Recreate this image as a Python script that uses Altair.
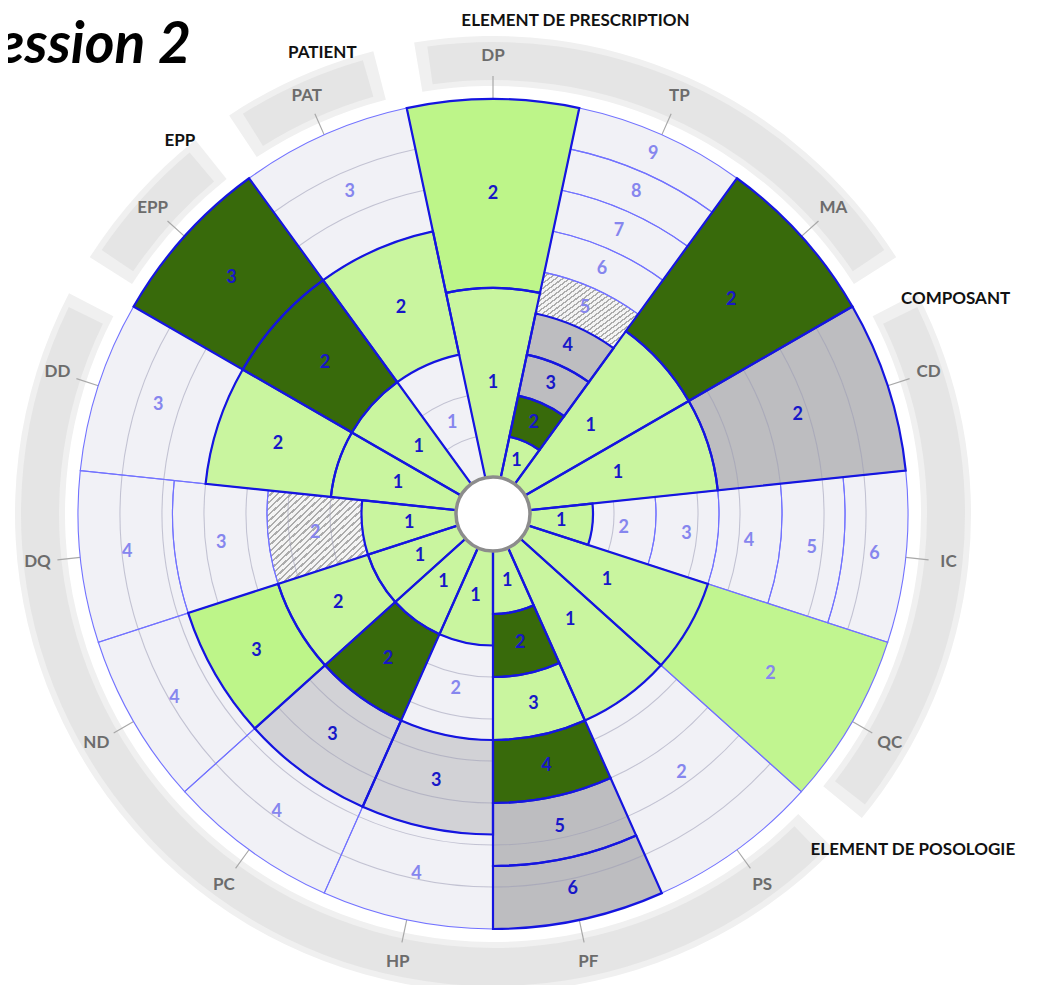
import math
import altair as alt
import pandas as pd

# ---------------- data ----------------
sectors = ["DP", "TP", "MA", "CD", "IC", "QC", "PS", "PF", "HP", "PC", "ND", "DQ", "DD", "EPP", "PAT"]
ring_counts = [2, 9, 2, 2, 6, 2, 2, 6, 4, 4, 4, 4, 3, 3, 3]
# L light green, B bright green, Q bright green (not validated), D dark green,
# G grey, g light grey, H hatched, U empty
cell_status = [
    ["L", "B"],
    ["L", "D", "G", "G", "H", "U", "U", "U", "U"],
    ["L", "D"],
    ["L", "G"],
    ["L", "U", "U", "U", "U", "U"],
    ["L", "Q"],
    ["L", "U"],
    ["L", "D", "L", "D", "G", "G"],
    ["L", "U", "g", "U"],
    ["L", "D", "g", "U"],
    ["L", "L", "B", "U"],
    ["L", "H", "U", "U"],
    ["L", "L", "U"],
    ["L", "D", "D"],
    ["U", "L", "U"],
]
groups = ["ELEMENT DE PRESCRIPTION", "COMPOSANT", "ELEMENT DE POSOLOGIE", "EPP", "PATIENT"]
group_members = [["DP", "TP", "MA"], ["CD", "IC", "QC"],
                 ["PS", "PF", "HP", "PC", "ND", "DQ", "DD"], ["EPP"], ["PAT"]]
title_text = "Session 2"

# ---------------- layout / style ----------------
R_IN, R_OUT = 37, 415
CX, CY = 485, 506
STEP = 360 / len(sectors)


def frac(px):
    return (px - R_IN) / (R_OUT - R_IN)


group_label_pos = {  # angle (deg), radius (px)
    "ELEMENT DE PRESCRIPTION": (9.5, 500),
    "COMPOSANT": (65.1, 510),
    "ELEMENT DE POSOLOGIE": (128.7, 538),
    "EPP": (320, 487),
    "PATIENT": (339.7, 492),
}
fill_of = {"L": "#c9f59f", "B": "#bdf589", "Q": "#c1f590", "D": "#386a0b",
           "G": "#bdbdc0", "g": "#d2d2d6", "H": "#e8e8e8", "U": "#f1f1f6"}
dark_txt, light_txt = "#1717c8", "#8686ee"
thick = {"L", "B", "D", "G", "g"}

rows, grid_rows = [], []
for i, s in enumerate(sectors):
    a = i * STEP
    n = ring_counts[i]
    for k in range(n):
        st = cell_status[i][k]
        rows.append(dict(sector=s, t0=a - STEP / 2, t1=a + STEP / 2, tm=a,
                         r0=k / n, r1=(k + 1) / n, rm=(k + 0.5) / n,
                         label=str(k + 1), status=st, fill=fill_of[st],
                         tc=dark_txt if st in thick else light_txt,
                         w="thick" if st in thick else "thin"))
        if st in ("U", "G", "g", "H"):
            for j in range(1, 9):
                g = j / 9
                if k / n + 0.015 < g < (k + 1) / n - 0.015:
                    grid_rows.append(dict(t0=a - STEP / 2, t1=a + STEP / 2,
                                          r0=g - 0.0014, r1=g + 0.0014))
cells = pd.DataFrame(rows)
grid = pd.DataFrame(grid_rows)

band_rows, band2_rows, glabel_rows = [], [], []
for gname, mem in zip(groups, group_members):
    a0 = sectors.index(mem[0]) * STEP - 8
    a1 = sectors.index(mem[-1]) * STEP + 8
    band2_rows.append(dict(t0=a0 - 1.5, t1=a1 + 1.5, r0=frac(428), r1=frac(478)))
    band_rows.append(dict(t0=a0, t1=a1, r0=frac(434), r1=frac(472)))
    ang, rad = group_label_pos[gname]
    glabel_rows.append(dict(tm=ang, rm=frac(rad), label=gname))
bands = pd.DataFrame(band_rows)
bands2 = pd.DataFrame(band2_rows)
glabels = pd.DataFrame(glabel_rows)

codes = pd.DataFrame([dict(tm=i * STEP, rm=frac(458), label=s,
                           t0=i * STEP - 0.08, t1=i * STEP + 0.08,
                           r0=1.0, r1=frac(438)) for i, s in enumerate(sectors)])
hole = pd.DataFrame([dict(t0=0, t1=360, r0=frac(0), r1=0.0)])

# ---------------- chart ----------------
th = alt.Scale(domain=[0, 360], range=[0, 2 * math.pi])
rs = alt.Scale(type="linear", domain=[0, 1], range=[R_IN, R_OUT])
cx, cy = alt.value(CX), alt.value(CY)


def arc_enc(ch):
    return ch.encode(x=cx, y=cy,
                     theta=alt.Theta("t0:Q", scale=th), theta2="t1:Q",
                     radius=alt.Radius("r1:Q", scale=rs), radius2="r0:Q")


def txt_enc(ch):
    return ch.encode(x=cx, y=cy,
                     theta=alt.Theta("tm:Q", scale=th),
                     radius=alt.Radius("rm:Q", scale=rs), text="label:N")


band_soft = arc_enc(alt.Chart(bands2).mark_arc(fill="#f0f0f0"))
band = arc_enc(alt.Chart(bands).mark_arc(fill="#e5e5e5"))
leaders = arc_enc(alt.Chart(codes).mark_arc(fill="#a8a8a8"))

cell_fill = arc_enc(alt.Chart(cells).mark_arc(strokeWidth=0)).encode(
    fill=alt.Fill("fill:N", scale=None))

stops = []
n_str = 30
for j in range(n_str):
    o0, o1, o2 = j / n_str, (j + 0.35) / n_str, (j + 1) / n_str
    stops += [{"offset": o0, "color": "#acacac"}, {"offset": o1, "color": "#acacac"},
              {"offset": o1, "color": "#f4f4f4"}, {"offset": o2, "color": "#f4f4f4"}]
hatch = arc_enc(alt.Chart(cells).transform_filter("datum.status == 'H'").mark_arc(
    fill={"gradient": "linear", "x1": 0, "y1": 0, "x2": 1, "y2": 1, "stops": stops},
    strokeWidth=0))

grid_lines = arc_enc(alt.Chart(grid).mark_arc(fill="#9a9ab4", opacity=0.55))

thin_stroke = arc_enc(alt.Chart(cells).transform_filter("datum.w == 'thin'").mark_arc(
    fillOpacity=0, stroke="#7272ff", strokeWidth=1.1))
thick_stroke = arc_enc(alt.Chart(cells).transform_filter("datum.w == 'thick'").mark_arc(
    fillOpacity=0, stroke="#1515e0", strokeWidth=2.2))

hole_l = arc_enc(alt.Chart(hole).mark_arc(fill="white", stroke="#8c8c8c", strokeWidth=3.5))

cell_txt = txt_enc(alt.Chart(cells).mark_text(
    font="Lato", fontWeight="bold", fontSize=18, align="center", baseline="middle")).encode(
    color=alt.Color("tc:N", scale=None))

code_txt = txt_enc(alt.Chart(codes).mark_text(
    font="Lato", fontWeight="bold", fontSize=17, color="#6c6c6c",
    align="center", baseline="middle"))

group_txt = txt_enc(alt.Chart(glabels).mark_text(
    font="Lato", fontWeight="bold", fontSize=17, color="#111111",
    align="center", baseline="middle"))

title = alt.Chart(pd.DataFrame([dict(label=title_text)])).mark_text(
    font="Lato", fontWeight="bold", fontStyle="italic", fontSize=57, color="#000000",
    align="right", baseline="alphabetic").encode(
    x=alt.value(183), y=alt.value(55), text="label:N")

chart = alt.layer(
    band_soft, band, leaders, cell_fill, hatch, grid_lines, thin_stroke, thick_stroke,
    hole_l, cell_txt, code_txt, group_txt, title
).properties(
    width=1038, height=977,
    autosize=alt.AutoSizeParams(type="none"), padding=0,
).configure_view(stroke=None)

chart.save("out.html", embed_options={"renderer": "svg", "actions": False})
